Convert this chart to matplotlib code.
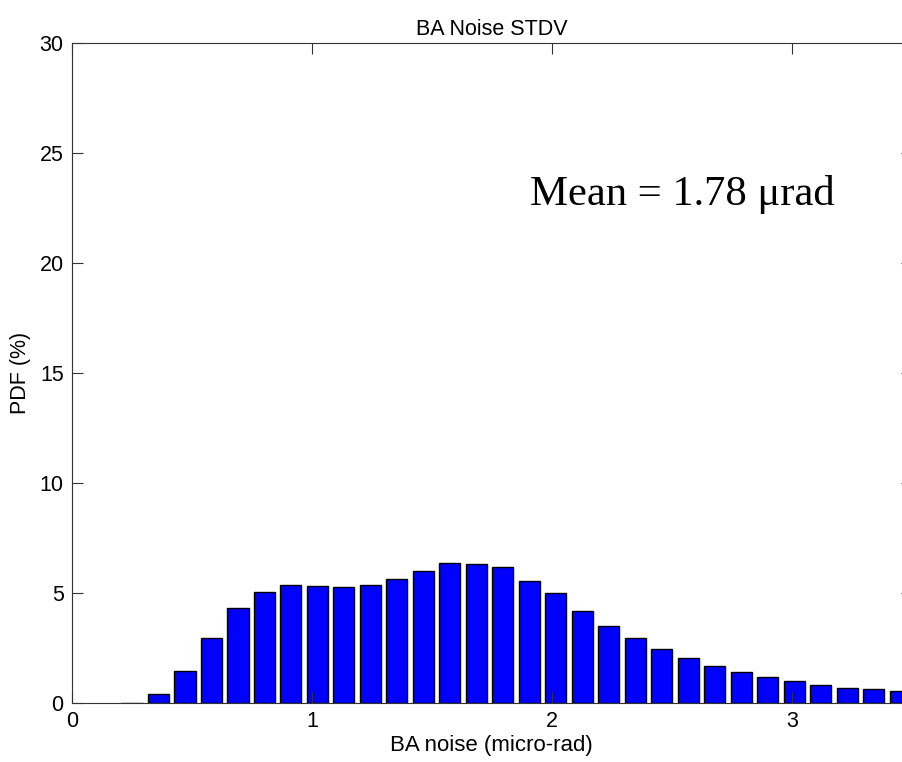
import matplotlib.pyplot as plt
import numpy as np
from matplotlib.axes import Axes
from matplotlib.figure import Figure

# Bin centres start at 0.25 and step by ~0.11 micro-rad
FIRST_CENTER = 0.25
BIN_STEP = 0.1104
PDF_PERCENT = [
    0.02, 0.41, 1.45, 2.95, 4.30, 5.05, 5.36, 5.33, 5.29, 5.35,
    5.65, 5.98, 6.35, 6.30, 6.20, 5.53, 5.00, 4.18, 3.51, 2.94,
    2.47, 2.06, 1.68, 1.41, 1.20, 1.00, 0.82, 0.70, 0.62, 0.55,
]
Y_TICKS = [0, 5, 10, 15, 20, 25, 30]
X_TICKS = [0, 1, 2, 3]
MEAN_TEXT = "Mean = 1.78 \u03bcrad"


def plot():
    plt.rcParams["font.family"] = ["Liberation Sans", "DejaVu Sans"]
    centers = FIRST_CENTER + BIN_STEP * np.arange(len(PDF_PERCENT))

    fig: Figure = plt.figure(figsize=(9.03, 7.62), dpi=100)
    ax: Axes = fig.add_axes([0.0797, 0.0774, 0.930, 0.866])
    ax.bar(centers, PDF_PERCENT, width=BIN_STEP * 0.8, color="#0000ff",
           edgecolor="black", linewidth=1.0)
    ax.set_xlim(0, 3.5)
    ax.set_ylim(0, 30)
    ax.set_xticks(X_TICKS)
    ax.set_yticks(Y_TICKS)
    ax.tick_params(axis="both", direction="in", length=8, labelsize=15.5,
                   top=True, right=True, color="#333333", pad=6)
    for s in ax.spines.values():
        s.set_color("#333333")
    ax.set_title("BA Noise STDV", fontsize=15.5, pad=6)
    ax.set_xlabel("BA noise (micro-rad)", fontsize=16, labelpad=2)
    ax.set_ylabel("PDF (%)", fontsize=15.5, labelpad=6)
    ax.text(1.91, 23.1, MEAN_TEXT, fontsize=30.7, va="center", ha="left",
            family=["Liberation Serif", "DejaVu Serif"])
    return fig, ax


def main():
    fig, _ = plot()
    fig.savefig("out.png", dpi=100)


if __name__ == "__main__":
    main()
